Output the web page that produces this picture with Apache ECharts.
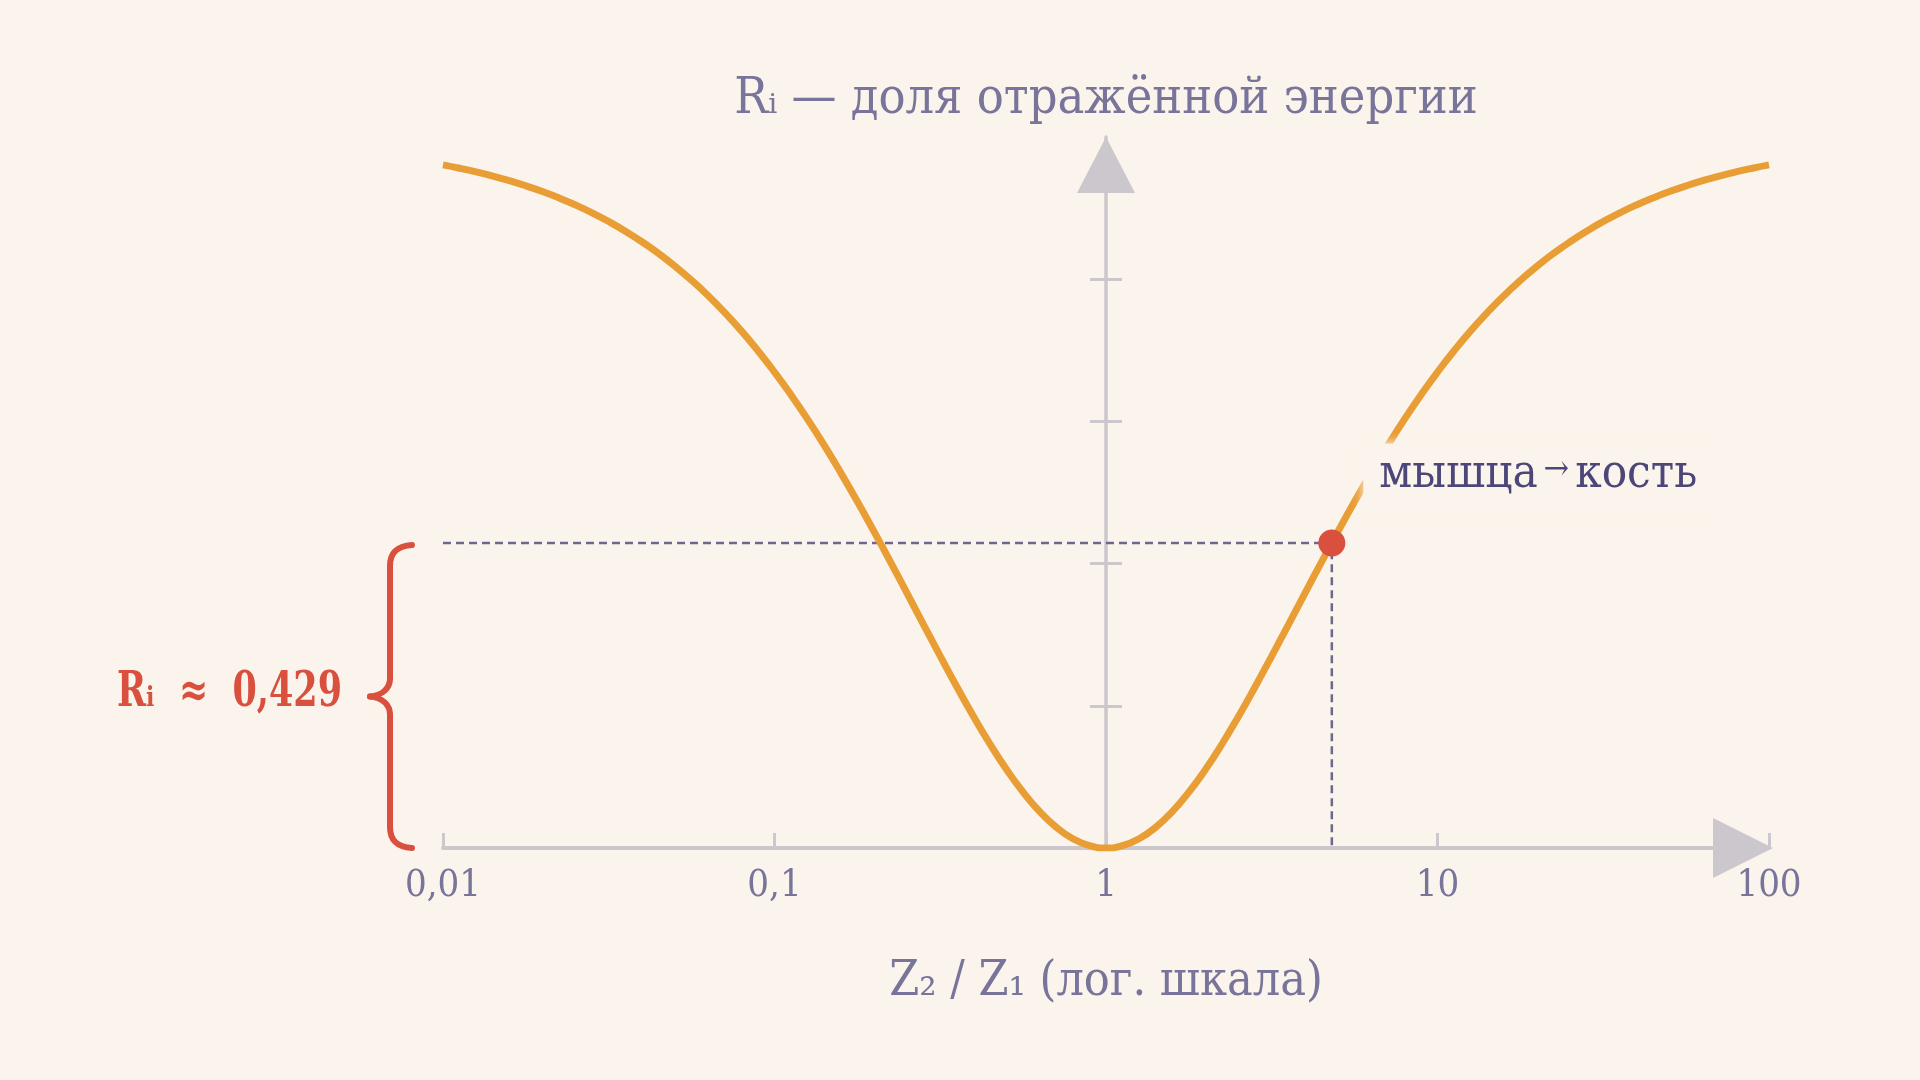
<!DOCTYPE html>
<html><head><meta charset="utf-8">
<script src="https://cdn.jsdelivr.net/npm/echarts@6/dist/echarts.min.js"></script>
<style>html,body{margin:0;padding:0;background:#faf4ec;}#c{width:1920px;height:1080px;}</style>
</head><body><div id="c"></div>
<script>
// Z2/Z1 ratio samples (log-spaced, 0.05 decade) and reflected-energy fraction
const ratioValues = [
  0.01, 0.01122, 0.01259, 0.01413, 0.01585, 0.01778, 0.01995, 0.02239, 0.02512, 0.02818,
  0.03162, 0.03548, 0.03981, 0.04467, 0.05012, 0.05623, 0.0631, 0.07079, 0.07943, 0.08913,
  0.1, 0.1122, 0.1259, 0.1413, 0.1585, 0.1778, 0.1995, 0.2239, 0.2512, 0.2818,
  0.3162, 0.3548, 0.3981, 0.4467, 0.5012, 0.5623, 0.631, 0.7079, 0.7943, 0.8913,
  1,
  1.122, 1.259, 1.413, 1.585, 1.778, 1.995, 2.239, 2.512, 2.818, 3.162,
  3.548, 3.981, 4.467, 5.012, 5.623, 6.310, 7.079, 7.943, 8.913, 10,
  11.22, 12.59, 14.13, 15.85, 17.78, 19.95, 22.39, 25.12, 28.18, 31.62,
  35.48, 39.81, 44.67, 50.12, 56.23, 63.10, 70.79, 79.43, 89.13, 100];
const reflectValues = [
  0.9608, 0.9561, 0.9509, 0.9451, 0.9386, 0.9313, 0.9233, 0.9143, 0.9044, 0.8934,
  0.8811, 0.8676, 0.8527, 0.8363, 0.8182, 0.7984, 0.7767, 0.7530, 0.7273, 0.6994,
  0.6694, 0.6372, 0.6028, 0.5662, 0.5276, 0.4873, 0.4453, 0.4022, 0.3582, 0.3139,
  0.2699, 0.2268, 0.1853, 0.1463, 0.1104, 0.0785, 0.0512, 0.0292, 0.0131, 0.0033,
  0,
  0.0033, 0.0131, 0.0292, 0.0512, 0.0785, 0.1104, 0.1463, 0.1853, 0.2268, 0.2699,
  0.3139, 0.3582, 0.4022, 0.4453, 0.4873, 0.5276, 0.5662, 0.6028, 0.6372, 0.6694,
  0.6994, 0.7273, 0.7530, 0.7767, 0.7984, 0.8182, 0.8363, 0.8527, 0.8676, 0.8811,
  0.8934, 0.9044, 0.9143, 0.9233, 0.9313, 0.9386, 0.9451, 0.9509, 0.9561, 0.9608];
const xTickLabels = ['0,01', '0,1', '1', '10', '100'];
const yTickValues = [0.2, 0.4, 0.6, 0.8];
const markerRatio = [4.8];
const markerReflect = [0.429];
const markerFrom = ['мышца'];
const markerTo = ['кость'];
const yAxisTitle = 'Rᵢ — доля отражённой энергии';
const xAxisTitle = 'Z₂ / Z₁ (лог. шкала)';

const BG = '#faf4ec', AXIS = '#ccc7cc', TXT = '#79749a', ORANGE = '#e99d35', RED = '#d9503f', DASH = '#6c678c';
const FONT = "'DejaVu Serif Condensed', 'DejaVu Serif', serif";

const curveData = ratioValues.map((x, i) => [x, reflectValues[i]]);
const mx = markerRatio[0], my = markerReflect[0];
const dashData = [[ratioValues[0], my], [mx, my], [mx, 0]];
const fmtNum = v => String(v).replace('.', ',');

const chart = echarts.init(document.getElementById('c'), null, {renderer: 'canvas'});
const yBase = {
  type: 'value', min: 0, max: 1, interval: 0.2, position: 'left', offset: -663,
  splitLine: {show: false}, axisLabel: {show: false}
};
chart.setOption({
  backgroundColor: BG,
  animation: false,
  grid: {left: 443, right: 151, top: 137, bottom: 232, containLabel: false},
  xAxis: {
    type: 'log', logBase: 10, min: 0.01, max: 100,
    name: xAxisTitle, nameLocation: 'middle', nameGap: 135,
    nameTextStyle: {fontFamily: FONT, fontSize: 48, color: TXT, verticalAlign: 'middle', align: 'center'},
    axisLine: {show: true, onZero: false, symbol: ['none', 'triangle'], symbolSize: [60, 60], symbolOffset: [0, -26],
      lineStyle: {color: AXIS, width: 4}},
    axisTick: {show: true, inside: true, length: 15, lineStyle: {color: AXIS, width: 3}},
    axisLabel: {show: true, margin: 19, fontFamily: FONT, fontSize: 38, color: TXT,
      formatter: v => xTickLabels[Math.round(Math.log10(v)) + 2]},
    splitLine: {show: false}, minorTick: {show: false}
  },
  yAxis: [
    Object.assign({}, yBase, {
      name: yAxisTitle, nameLocation: 'end', nameGap: 37,
      nameTextStyle: {fontFamily: FONT, fontSize: 50, color: TXT, verticalAlign: 'middle', align: 'center'},
      axisLine: {show: true, symbol: ['none', 'triangle'], symbolSize: [58, 56], symbolOffset: [0, -28],
        lineStyle: {color: AXIS, width: 3.5}},
      axisTick: {show: true, inside: false, length: 16, customValues: yTickValues, lineStyle: {color: AXIS, width: 3}}
    }),
    Object.assign({}, yBase, {
      axisLine: {show: false},
      axisTick: {show: true, inside: true, length: 16, customValues: yTickValues, lineStyle: {color: AXIS, width: 3}}
    })
  ],
  series: [
    {
      type: 'line', data: curveData, smooth: true, symbol: 'none', z: 3,
      lineStyle: {color: ORANGE, width: 7}, emphasis: {disabled: true}
    },
    {
      type: 'line', data: dashData, symbol: 'none', z: 2,
      lineStyle: {color: DASH, width: 2.5, type: [8, 5]}, emphasis: {disabled: true}
    },
    {
      type: 'scatter', data: [[mx, my]], symbolSize: 27, z: 6,
      itemStyle: {color: RED, opacity: 1}, emphasis: {disabled: true},
      label: {
        show: true, position: 'right', distance: 0, offset: [18, -68],
        formatter: '{a|' + markerFrom[0] + '}{b|→}{a|' + markerTo[0] + '}',
        backgroundColor: BG, padding: [8, 16], shadowColor: BG, shadowBlur: 10,
        rich: {
          a: {fontFamily: FONT, fontSize: 47, color: '#4c4778'},
          b: {fontFamily: FONT, fontSize: 34, color: '#4c4778', padding: [0, 6, 10, 6]}
        }
      }
    },
    {
      type: 'custom', data: [[ratioValues[0], my]], z: 5, clip: false, silent: true,
      renderItem: function (params, api) {
        const top = api.coord([api.value(0), api.value(1)]);
        const bot = api.coord([api.value(0), 0]);
        const x0 = top[0], yt = top[1] + 2, yb = bot[1];
        const ym = (yt + yb) / 2;
        const xe = x0 - 31, xv = x0 - 53, xp = x0 - 73;
        const st = {stroke: RED, lineWidth: 6, fill: null, lineCap: 'round'};
        const bz = (x1, y1, c1x, c1y, c2x, c2y, x2, y2) => ({type: 'bezierCurve',
          shape: {x1: x1, y1: y1, cpx1: c1x, cpy1: c1y, cpx2: c2x, cpy2: c2y, x2: x2, y2: y2}, style: st});
        const ln = (x1, y1, x2, y2) => ({type: 'line', shape: {x1: x1, y1: y1, x2: x2, y2: y2}, style: st});
        return {type: 'group', children: [
          bz(xe, yt, xe - 14, yt + 1, xv, yt + 7, xv, yt + 21),
          ln(xv, yt + 21, xv, ym - 18),
          bz(xv, ym - 18, xv, ym - 8, xv - 8, ym - 1, xp, ym),
          bz(xp, ym, xv - 8, ym + 1, xv, ym + 8, xv, ym + 18),
          ln(xv, ym + 18, xv, yb - 21),
          bz(xv, yb - 21, xv, yb - 7, xe - 14, yb - 1, xe, yb),
          {type: 'text', x: xp - 28, y: ym - 3, scaleX: 0.81, style: {
            text: 'Rᵢ  ≈  ' + fmtNum(api.value(1)), align: 'right', verticalAlign: 'middle',
            fontFamily: FONT, fontWeight: 'bold', fontSize: 48, fill: RED}}
        ]};
      }
    }
  ]
});
</script>
</body></html>
